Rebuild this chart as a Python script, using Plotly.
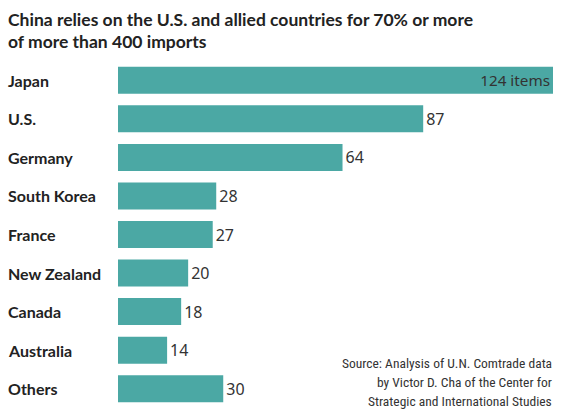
import plotly.graph_objects as go

countries = ["Japan", "U.S.", "Germany", "South Korea", "France", "New Zealand", "Canada", "Australia", "Others"]
items = [124, 87, 64, 28, 27, 20, 18, 14, 30]
value_labels = ["124 items", "87", "64", "28", "27", "20", "18", "14", "30"]
title_lines = ["China relies on the U.S. and allied countries for 70% or more",
               "of more than 400 imports"]
source_lines = ["Source: Analysis of U.N. Comtrade data",
                "by Victor D. Cha of the Center for",
                "Strategic and International Studies"]

W, H = 573, 417
ML, MR, MT, MB = 118, 20, 61, 9
PW = W - ML - MR
PH = H - MT - MB

def px_x(p):
    return (p - ML) / PW

def px_y(p):
    return 1 - (p - MT) / PH

bar_color = "#4BA8A4"
text_color = "#222222"
font_main = "Lato"

fig = go.Figure()
fig.add_trace(go.Bar(
    x=items,
    y=countries,
    orientation="h",
    marker=dict(color=bar_color, line=dict(width=0)),
    text=value_labels,
    textposition=["inside"] + ["outside"] * (len(items) - 1),
    insidetextanchor="end",
    insidetextfont=dict(family="Noto Sans", size=16, color="#333333"),
    outsidetextfont=dict(family="Noto Sans", size=16, color="#333333"),
    textangle=0,
    cliponaxis=False,
    hoverinfo="skip",
))

annotations = []
for i, line in enumerate(title_lines):
    annotations.append(dict(
        text=line, xref="paper", yref="paper",
        x=px_x(6), y=px_y(19 + i * 23),
        xanchor="left", yanchor="middle", showarrow=False,
        font=dict(family=font_main, size=17.5, color=text_color, weight=700),
    ))
for c in countries:
    annotations.append(dict(
        text=c, xref="paper", yref="y",
        x=px_x(6), y=c,
        xanchor="left", yanchor="middle", showarrow=False,
        font=dict(family=font_main, size=16, color=text_color, weight=700),
    ))
for i, line in enumerate(source_lines):
    annotations.append(dict(
        text=line, xref="paper", yref="paper",
        x=px_x(554), y=px_y(363 + i * 19),
        xanchor="right", yanchor="middle", showarrow=False,
        font=dict(family="Liberation Sans Narrow, Roboto Condensed, Roboto", size=13.5, color="#333333"),
    ))

fig.update_layout(
    width=W, height=H,
    margin=dict(l=ML, r=MR, t=MT, b=MB, pad=0),
    paper_bgcolor="white", plot_bgcolor="white",
    showlegend=False,
    bargap=0.3,
    xaxis=dict(range=[0, 124], visible=False, fixedrange=True),
    yaxis=dict(categoryorder="array", categoryarray=countries, autorange="reversed",
               showticklabels=False, showgrid=False, zeroline=False, showline=False, ticks=""),
    annotations=annotations,
    font=dict(family=font_main),
)

fig.write_html("out.html", config={"displayModeBar": False},
               post_script="document.body.style.margin='0';")
